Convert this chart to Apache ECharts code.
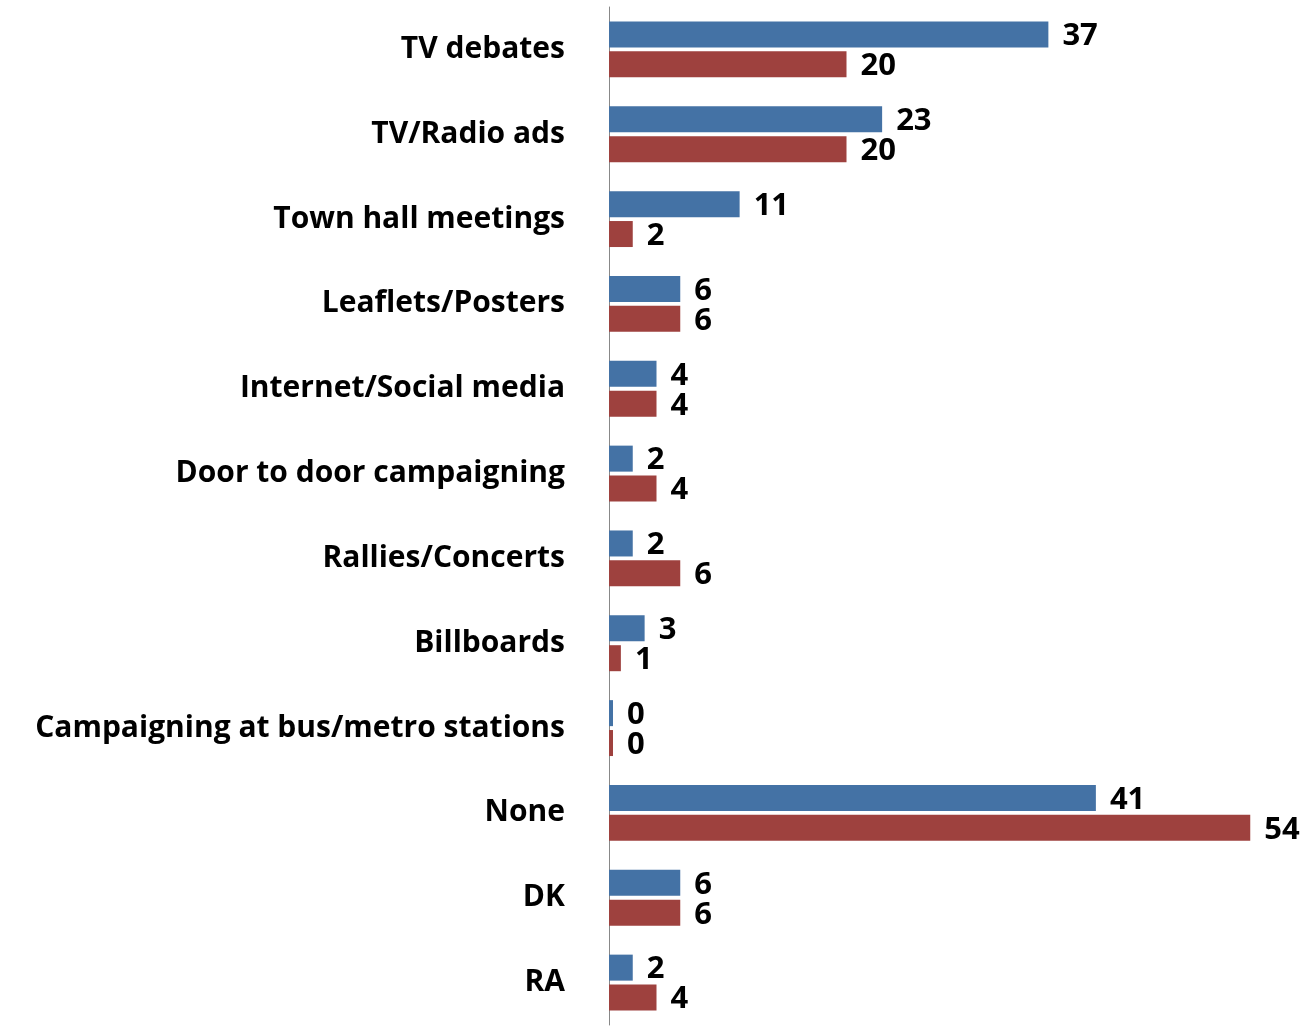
<!DOCTYPE html>
<html>
<head>
    <meta charset="UTF-8">
    <title>Campaign channels</title>
    <script src="https://cdn.jsdelivr.net/npm/echarts@6/dist/echarts.min.js"></script>
    <style>
        html, body { margin: 0; padding: 0; background: #fff; }
        #chart { width: 1314px; height: 1027px; }
    </style>
</head>
<body>
<div id="chart"></div>
<script>
    // categories, top to bottom
    var categories = ['TV debates', 'TV/Radio ads', 'Town hall meetings', 'Leaflets/Posters',
        'Internet/Social media', 'Door to door campaigning', 'Rallies/Concerts', 'Billboards',
        'Campaigning at bus/metro stations', 'None', 'DK', 'RA'];
    var blueValues = [37, 23, 11, 6, 4, 2, 2, 3, 0, 41, 6, 2];
    var redValues = [20, 20, 2, 6, 4, 4, 6, 1, 0, 54, 6, 4];

    var myChart = echarts.init(document.getElementById('chart'));

    var valueLabel = {
        show: true,
        position: 'right',
        distance: 14,
        offset: [0, 2],
        color: '#000',
        fontFamily: 'Open Sans',
        fontWeight: 'bold',
        fontSize: 31
    };

    var option = {
        animation: false,
        grid: {left: 609, top: 7, width: 665, bottom: 2},
        xAxis: {
            type: 'value',
            min: 0,
            max: 56,
            show: false
        },
        yAxis: {
            type: 'category',
            inverse: true,
            data: categories,
            axisLine: {lineStyle: {color: '#888', width: 1}},
            axisTick: {show: false},
            axisLabel: {
                margin: 44,
                color: '#000',
                fontFamily: 'Open Sans',
                fontWeight: 'bold',
                fontSize: 30
            }
        },
        series: [
            {
                type: 'bar',
                data: blueValues,
                barWidth: 26,
                barGap: '15%',
                barMinHeight: 4,
                itemStyle: {color: '#4472A5'},
                label: valueLabel
            },
            {
                type: 'bar',
                data: redValues,
                barWidth: 26,
                barGap: '15%',
                barMinHeight: 4,
                itemStyle: {color: '#9E413E'},
                label: valueLabel
            }
        ]
    };
    myChart.setOption(option);
</script>
</body>
</html>
